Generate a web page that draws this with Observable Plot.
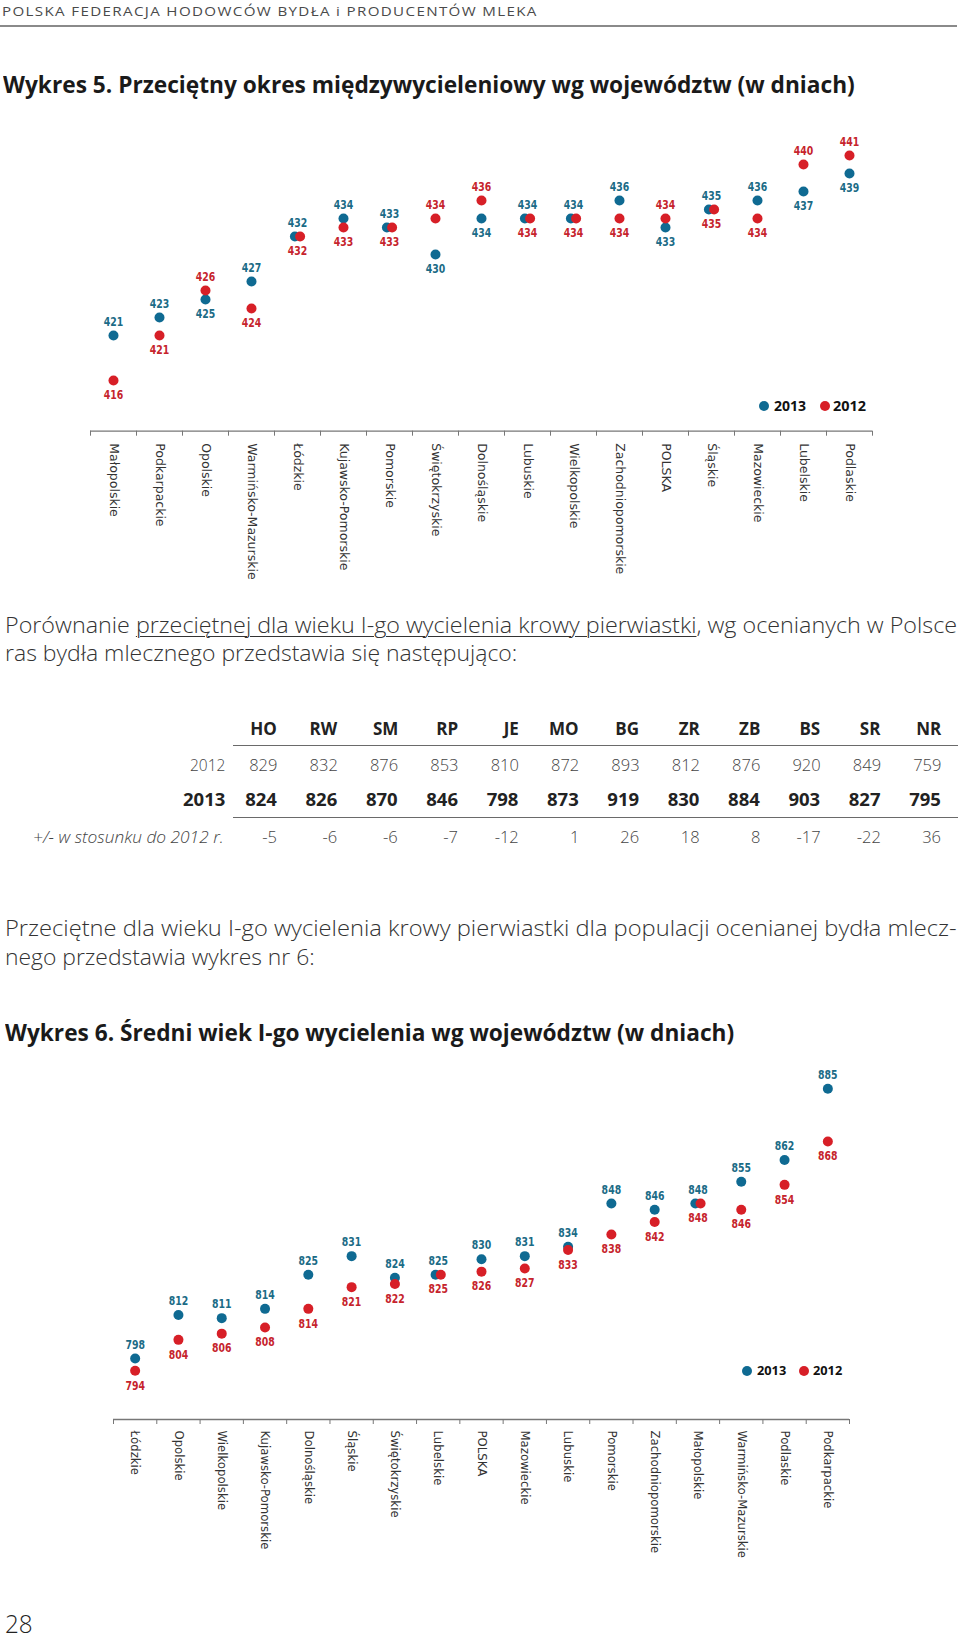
<!DOCTYPE html>
<html><head><meta charset="utf-8">
<script src="https://cdn.jsdelivr.net/npm/d3@7"></script>
<script src="https://cdn.jsdelivr.net/npm/@observablehq/plot@0.6"></script>
<style>
html,body{margin:0;padding:0;background:#fff;}
#page{position:relative;width:960px;height:1641px;overflow:hidden;background:#fff;}
.t{position:absolute;white-space:nowrap;transform-origin:0 50%;}
.t u{text-decoration-thickness:1px;text-underline-offset:3px;}
.abs{position:absolute;}
</style></head><body><div id="page"></div>
<script>
// ---------- DATA ----------
const chart1Regions = ["Małopolskie","Podkarpackie","Opolskie","Warmińsko-Mazurskie","Łódzkie","Kujawsko-Pomorskie","Pomorskie","Świętokrzyskie","Dolnośląskie","Lubuskie","Wielkopolskie","Zachodniopomorskie","POLSKA","Śląskie","Mazowieckie","Lubelskie","Podlaskie"];
const chart1Values2013 = [421,423,425,427,432,434,433,430,434,434,434,436,433,435,436,437,439];
const chart1Values2012 = [416,421,426,424,432,433,433,434,436,434,434,434,434,435,434,440,441];

const chart2Regions = ["Łódzkie","Opolskie","Wielkopolskie","Kujawsko-Pomorskie","Dolnośląskie","Śląskie","Świętokrzyskie","Lubelskie","POLSKA","Mazowieckie","Lubuskie","Pomorskie","Zachodniopomorskie","Małopolskie","Warmińsko-Mazurskie","Podlaskie","Podkarpackie"];
const chart2Values2013 = [798,812,811,814,825,831,824,825,830,831,834,848,846,848,855,862,885];
const chart2Values2012 = [794,804,806,808,814,821,822,825,826,827,833,838,842,848,846,854,868];

const breeds = ["HO","RW","SM","RP","JE","MO","BG","ZR","ZB","BS","SR","NR"];
const breedValues2012 = [829,832,876,853,810,872,893,812,876,920,849,759];
const breedValues2013 = [824,826,870,846,798,873,919,830,884,903,827,795];
const breedDiff = [-5,-6,-6,-7,-12,1,26,18,8,-17,-22,36];
const tableRowLabels = ["2012","2013","+/- w stosunku do 2012 r."];

const legendYears = ["2013","2012"];

// ---------- STYLE ----------
const BLUE = "#0f6a92", RED = "#d71f27", BLUE_T = "#1b6b86", RED_T = "#c6232c";
const NARROW = '"Liberation Sans Narrow","DejaVu Sans Condensed","Roboto Condensed","Arial Narrow",sans-serif';
const LIGHT = '"Open Sans",Lato,sans-serif';
const DOT_R = 5;
const page = document.getElementById("page");
const fits = [];

function addText(html, o) {
  const el = document.createElement("div");
  el.className = "t";
  el.innerHTML = html;
  const s = el.style;
  const lh = o.lh || o.size * 1.12;
  s.fontSize = o.size + "px";
  s.lineHeight = lh + "px";
  s.top = (o.cy - lh / 2 - 0.03 * o.size) + "px";
  s.fontFamily = o.font || LIGHT;
  s.fontWeight = o.weight || 400;
  s.color = o.color || "#333";
  if (o.italic) s.fontStyle = "italic";
  if (o.ls) s.letterSpacing = o.ls + "px";
  page.appendChild(el);
  if (o.right != null) {
    el.style.left = (o.right - el.offsetWidth) + "px";
  } else {
    s.left = o.x + "px";
  }
  if (o.w) fits.push([el, o.w]);
  return el;
}
function fitAll() {
  for (const [el, w] of fits) {
    el.style.transform = `scaleX(${w / el.offsetWidth})`;
  }
}
function addBox(x, y, w, h, color) {
  const d = document.createElement("div");
  d.className = "abs";
  Object.assign(d.style, {left: x + "px", top: y + "px", width: w + "px", height: h + "px", background: color});
  page.appendChild(d);
}
function addDot(cx, cy, r, color) {
  const d = document.createElement("div");
  d.className = "abs";
  Object.assign(d.style, {left: (cx - r) + "px", top: (cy - r) + "px", width: 2 * r + "px", height: 2 * r + "px", borderRadius: "50%", background: color});
  page.appendChild(d);
}
function addLegend(cfg) {
  const colors = [BLUE, RED];
  legendYears.forEach((y, i) => {
    addDot(cfg.dots[i], cfg.cy, DOT_R, colors[i]);
    addText(y, {x: cfg.texts[i], cy: cfg.cy, size: cfg.size, weight: 700, color: "#111", w: cfg.tw[i]});
  });
}

function dotChart(regions, v13, v12, cfg) {
  const rows = regions.map((r, i) => ({r, b: v13[i], c: v12[i]}));
  const bw = (cfg.x1 - cfg.x0) / regions.length;
  const ppu = (cfg.height - cfg.mb) / (cfg.dmax - cfg.dmin);
  const tickEnd = cfg.dmin - 5 / ppu;
  const eq = rows.filter(d => d.b === d.c), ne = rows.filter(d => d.b !== d.c);
  const lab = {fontFamily: NARROW, fontSize: 13, fontWeight: 700};
  const svg = Plot.plot({
    width: 960, height: cfg.height,
    marginLeft: cfg.x0, marginRight: 960 - cfg.x1, marginTop: 0, marginBottom: cfg.mb,
    x: {type: "band", domain: regions, padding: 0, round: false, label: null, tickSize: 0, tickPadding: cfg.pad, tickRotate: 90},
    y: {domain: [cfg.dmin, cfg.dmax], axis: null},
    style: {fontFamily: '"DejaVu Sans",Verdana,sans-serif', fontSize: cfg.fs + "px", color: "#333", background: "transparent", overflow: "visible"},
    marks: [
      Plot.ruleY([cfg.dmin], {stroke: "#777", strokeWidth: 1.3}),
      Plot.ruleX(regions, {x: d => d, y1: cfg.dmin, y2: tickEnd, dx: -bw / 2, stroke: "#777", strokeWidth: 1}),
      Plot.ruleX(regions.slice(-1), {x: d => d, y1: cfg.dmin, y2: tickEnd, dx: bw / 2, stroke: "#777", strokeWidth: 1}),
      Plot.dot(ne, {x: "r", y: "b", r: DOT_R, fill: BLUE}),
      Plot.dot(eq, {x: "r", y: "b", r: DOT_R, fill: BLUE, dx: -2.6}),
      Plot.dot(ne, {x: "r", y: "c", r: DOT_R, fill: RED}),
      Plot.dot(eq, {x: "r", y: "c", r: DOT_R, fill: RED, dx: 2.6}),
      Plot.text(rows.filter(d => d.b >= d.c), {x: "r", y: "b", text: d => String(d.b), dy: -14, fill: BLUE_T, ...lab}),
      Plot.text(rows.filter(d => d.b < d.c), {x: "r", y: "b", text: d => String(d.b), dy: 14.5, fill: BLUE_T, ...lab}),
      Plot.text(rows.filter(d => d.c > d.b), {x: "r", y: "c", text: d => String(d.c), dy: -14, fill: RED_T, ...lab}),
      Plot.text(rows.filter(d => d.c <= d.b), {x: "r", y: "c", text: d => String(d.c), dy: 14.5, fill: RED_T, ...lab})
    ]
  });
  // condense the value labels (the reference uses a condensed face)
  svg.querySelectorAll('g[aria-label="text"] text').forEach(t => {
    const tr = t.getAttribute("transform");
    if (tr && tr.includes("translate")) t.setAttribute("transform", tr + " scale(0.8,1)");
    else { t.style.transformBox = "fill-box"; t.style.transformOrigin = "center"; t.style.transform = "scaleX(0.8)"; }
  });
  const wrap = document.createElement("div");
  wrap.className = "abs";
  wrap.style.left = "0px";
  wrap.style.top = cfg.top + "px";
  wrap.appendChild(svg);
  page.appendChild(wrap);
}

// ---------- HEADER ----------
addText("POLSKA FEDERACJA HODOWCÓW BYDŁA i PRODUCENTÓW MLEKA", {x: 2, cy: 12.3, size: 13.5, color: "#4a4a4a", ls: 1.2, w: 536});
addBox(0, 25.3, 957, 1.5, "#8a8a8a");

// ---------- CHART 1 ----------
addText("Wykres 5. Przeciętny okres międzywycieleniowy wg województw (w dniach)", {x: 3, cy: 85, size: 24, weight: 700, color: "#1a1a1a", w: 852});
dotChart(chart1Regions, chart1Values2013, chart1Values2012, {top: 105, height: 480, x0: 90, x1: 872, mb: 154.3, dmin: 410.37, dmax: 446.56, pad: 12, fs: 12.5});
addLegend({cy: 406, dots: [764, 825], texts: [774, 833], tw: [32, 33], size: 14});

// ---------- PARAGRAPH 1 ----------
addText('Porównanie <u>przeciętnej dla wieku I-go wycielenia krowy pierwiastki</u>, wg ocenianych w Polsce', {x: 5, cy: 625, size: 22.5, weight: 300, color: "#333", w: 952});
addText('ras bydła mlecznego przedstawia się następująco:', {x: 5, cy: 653.5, size: 22.5, weight: 300, color: "#333", w: 512});

// ---------- TABLE ----------
const colRight = breeds.map((_, i) => 277.2 + i * 60.36);
breeds.forEach((b, i) => addText(b, {right: colRight[i], cy: 729, size: 17, weight: 700, color: "#222"}));
addBox(233, 745, 725, 1.3, "#6a6a6a");
breedValues2012.forEach((v, i) => addText(String(v), {right: colRight[i], cy: 765.7, size: 16.5, weight: 300, color: "#444"}));
breedValues2013.forEach((v, i) => addText(String(v), {right: colRight[i], cy: 800, size: 18.5, weight: 700, color: "#222"}));
addBox(233, 816.8, 725, 1.3, "#6a6a6a");
breedDiff.forEach((v, i) => addText(String(v), {right: colRight[i], cy: 837.3, size: 16.5, weight: 300, color: "#444"}));
addText(tableRowLabels[0], {right: 225, cy: 765.7, size: 15.5, weight: 300, color: "#444"});
addText(tableRowLabels[1], {right: 225, cy: 800, size: 18.5, weight: 700, color: "#222"});
addText(tableRowLabels[2], {x: 33, cy: 837.3, size: 16.5, weight: 300, italic: true, color: "#444", w: 191});

// ---------- PARAGRAPH 2 ----------
addText('Przeciętne dla wieku I-go wycielenia krowy pierwiastki dla populacji ocenianej bydła mlecz-', {x: 5, cy: 928.5, size: 22.5, weight: 300, color: "#333", w: 952});
addText('nego przedstawia wykres nr 6:', {x: 5, cy: 957.5, size: 22.5, weight: 300, color: "#333", w: 310});

// ---------- CHART 2 ----------
addText("Wykres 6. Średni wiek I-go wycielenia wg województw (w dniach)", {x: 5, cy: 1033, size: 24, weight: 700, color: "#1a1a1a", w: 729});
dotChart(chart2Regions, chart2Values2013, chart2Values2012, {top: 1050, height: 540, x0: 113, x1: 849, mb: 171, dmin: 778.3, dmax: 897.35, pad: 11, fs: 11.7});
addLegend({cy: 1371, dots: [746.7, 804], texts: [757, 813], tw: [29.5, 29.5], size: 13});

// ---------- PAGE NUMBER ----------
addText("28", {x: 5, cy: 1624, size: 26, lh: 20, weight: 300, color: "#222", w: 28});

fitAll();
if (document.fonts && document.fonts.ready) document.fonts.ready.then(fitAll);
</script>
</body></html>
